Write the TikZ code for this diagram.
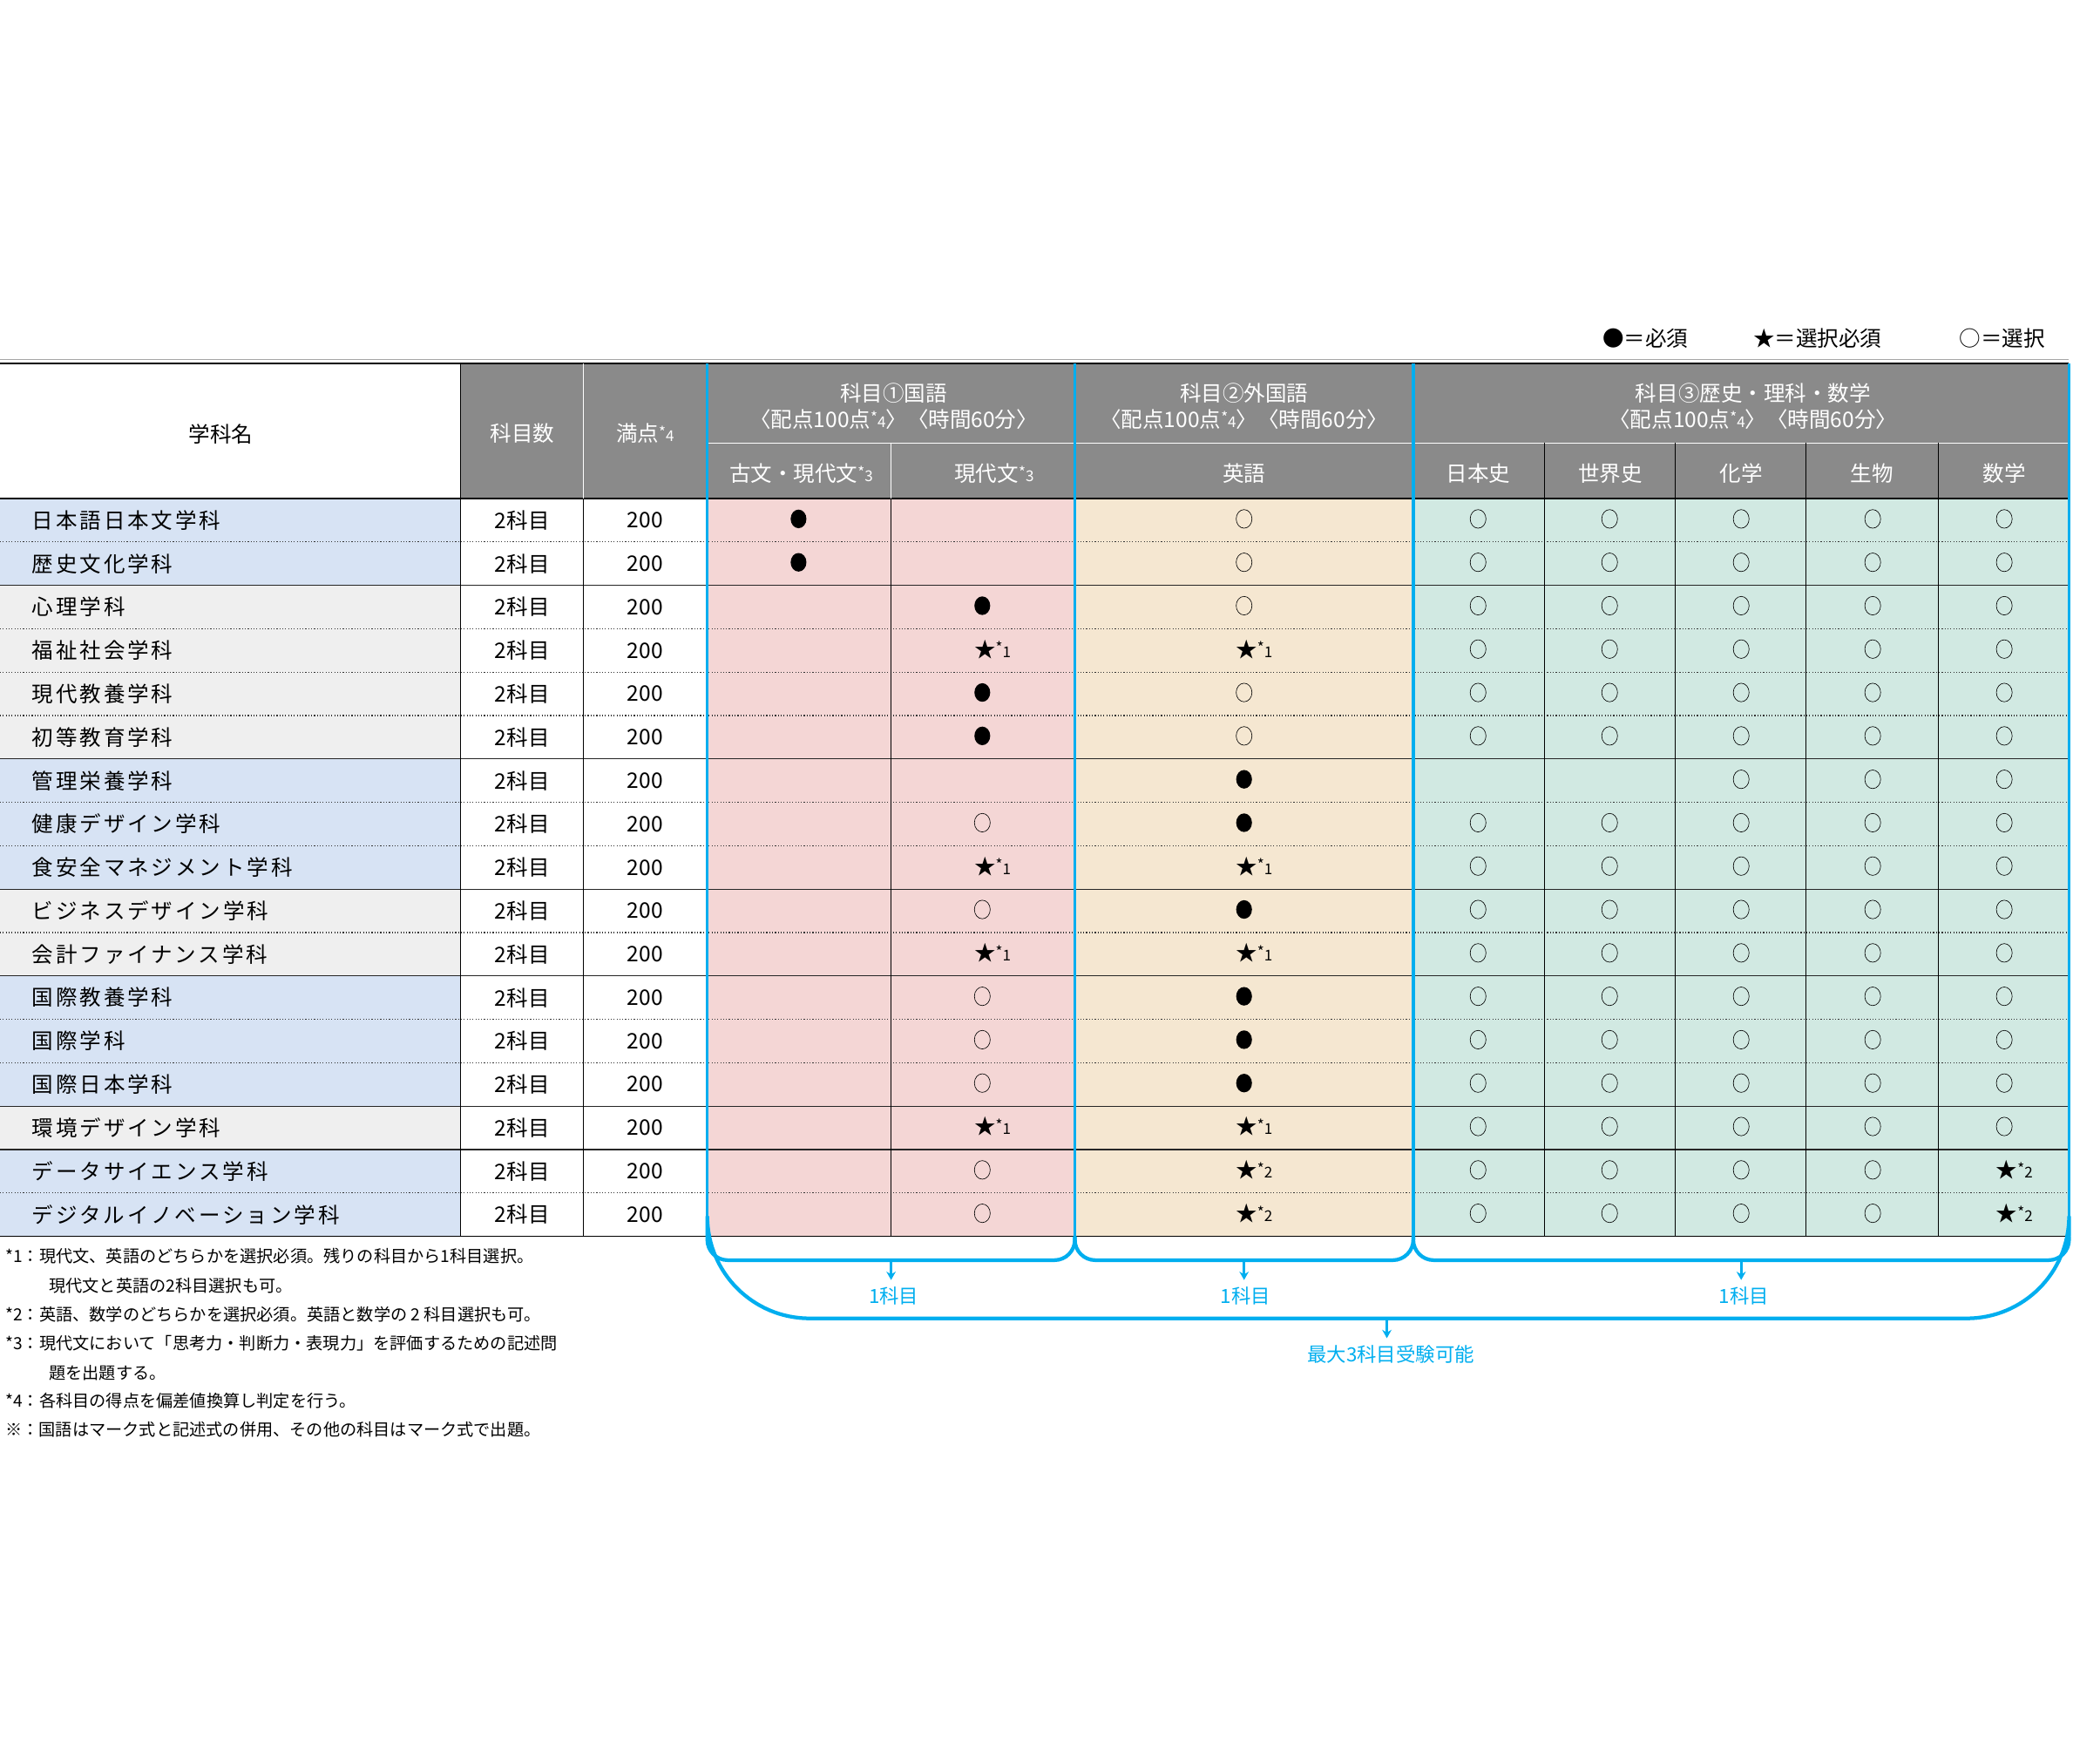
\documentclass[tikz,border=0pt]{standalone}
\usepackage{fontspec}
\setmainfont{Noto Sans CJK JP}
\usetikzlibrary{shapes.geometric,arrows.meta}
\definecolor{hdgrey}{HTML}{8A8A8A}
\definecolor{nmblue}{HTML}{D7E3F4}
\definecolor{nmgrey}{HTML}{EFEFEF}
\definecolor{kokugo}{HTML}{F4D6D5}
\definecolor{gaikoku}{HTML}{F5E7D1}
\definecolor{rika}{HTML}{D1E9E2}
\definecolor{ruby}{HTML}{00AEEF}
\newcommand\noteref[1]{{\fontsize{16}{16}\selectfont\raisebox{.45ex}{*}#1}}
\tikzset{
  txt/.style={font=\fontsize{23}{26}\selectfont, inner sep=0pt},
  hdtxt/.style={txt, text=white},
  mN/.style={node contents={}},
  mO/.style={ellipse, draw, line width=0.6pt, minimum width=17, minimum height=20, inner sep=0pt, node contents={}},
  mF/.style={ellipse, fill, minimum width=17, minimum height=20, inner sep=0pt, node contents={}},
  mS1/.style={txt, node contents={★\noteref{1}}, xshift=11},
  mS2/.style={txt, node contents={★\noteref{2}}, xshift=11},
  solidsep/.style={line width=1.2pt, black!85},
  dotsep/.style={line width=1.1pt, dotted, black!80},
  bracket/.style={ruby, line width=1.4mm},
  blue note/.style={txt, text=ruby, font=\fontsize{21}{24}\selectfont}
}
\begin{document}
\begin{tikzpicture}[x=0.5mm, y=-0.5mm]
  \useasboundingbox (0,0) rectangle (1568,1334);

  % legend
  \node (lgF) [txt, anchor=west] at (1212,256) {●＝必須};
  \node (lgS) [txt, anchor=west] at (1326,256) {★＝選択必須};
  \node (lgO) [txt, anchor=west] at (1482,256) {○＝選択};

  % backgrounds
  \fill[hdgrey] (348,275) rectangle (1565,377);
  \fill[kokugo] (535,377) rectangle (813,935);
  \fill[gaikoku] (813,377) rectangle (1069,935);
  \fill[rika] (1069,377) rectangle (1565,935);
  \foreach \a/\b/\c in {1/2/nmblue,3/6/nmgrey,7/9/nmblue,10/11/nmgrey,12/14/nmblue,15/15/nmgrey,16/17/nmblue}
    \fill[\c] (0,{377+(\a-1)*32.82}) rectangle (348,{377+\b*32.82});

  % header
  \node (hName) [txt] at (167,328) {学科名};
  \node (hNum) [hdtxt] at (395,328) {科目数};
  \node (hFull) [hdtxt] at (488,328) {満点\noteref{4}};
  \node (hK) [hdtxt, align=center] at (676,307) {科目①国語\\[2pt]〈配点100点\noteref{4}〉〈時間60分〉};
  \node (hG) [hdtxt, align=center] at (941,307) {科目②外国語\\[2pt]〈配点100点\noteref{4}〉〈時間60分〉};
  \node (hR) [hdtxt, align=center] at (1326,307) {科目③歴史・理科・数学\\[2pt]〈配点100点\noteref{4}〉〈時間60分〉};
  \node (hKobun) [hdtxt] at (606,358) {古文・現代文\noteref{3}};
  \node (hGendai) [hdtxt] at (752,358) {現代文\noteref{3}};
  \node (hEigo) [hdtxt] at (941,358) {英語};
  \foreach \x/\t [count=\j] in {1118/日本史,1218/世界史,1317/化学,1416/生物,1516/数学}
    \node (hS\j) [hdtxt] at (\x,358) {\t};

  % rows
  \foreach \nm/\a/\b/\c/\d [count=\r] in {
    日本語日本文学科/mF/mN/mO/{mO,mO,mO,mO,mO},
    歴史文化学科/mF/mN/mO/{mO,mO,mO,mO,mO},
    心理学科/mN/mF/mO/{mO,mO,mO,mO,mO},
    福祉社会学科/mN/mS1/mS1/{mO,mO,mO,mO,mO},
    現代教養学科/mN/mF/mO/{mO,mO,mO,mO,mO},
    初等教育学科/mN/mF/mO/{mO,mO,mO,mO,mO},
    管理栄養学科/mN/mN/mF/{mN,mN,mO,mO,mO},
    健康デザイン学科/mN/mO/mF/{mO,mO,mO,mO,mO},
    食安全マネジメント学科/mN/mS1/mS1/{mO,mO,mO,mO,mO},
    ビジネスデザイン学科/mN/mO/mF/{mO,mO,mO,mO,mO},
    会計ファイナンス学科/mN/mS1/mS1/{mO,mO,mO,mO,mO},
    国際教養学科/mN/mO/mF/{mO,mO,mO,mO,mO},
    国際学科/mN/mO/mF/{mO,mO,mO,mO,mO},
    国際日本学科/mN/mO/mF/{mO,mO,mO,mO,mO},
    環境デザイン学科/mN/mS1/mS1/{mO,mO,mO,mO,mO},
    データサイエンス学科/mN/mO/mS2/{mO,mO,mO,mO,mS2},
    デジタルイノベーション学科/mN/mO/mS2/{mO,mO,mO,mO,mS2}} {
    \pgfmathsetmacro\y{377+(\r-0.5)*32.82}
    \node (name\r) [txt, anchor=west] at (24,\y) {\addfontfeatures{LetterSpace=12}\nm};
    \node (num\r) [txt] at (395,\y) {2科目};
    \node (full\r) [txt] at (488,\y) {200};
    \node (kobun\r) [at={(604,\y-1)}, \a];
    \node (gendai\r) [at={(743,\y-1)}, \b];
    \node (eigo\r) [at={(941,\y-1)}, \c];
    \foreach \s [count=\j] in \d {
      \pgfmathsetmacro\x{1118+(\j-1)*99.5}
      \node (sci\r-\j) [at={(\x,\y-1)}, \s];
    }
  }

  % row separators
  \foreach \r in {1,3,4,5,7,8,10,12,13,16}
    \draw[dotsep] (0,{377+\r*32.82}) -- (1565,{377+\r*32.82});
  \foreach \r in {2,6,9,11,14,15}
    \draw[solidsep] (0,{377+\r*32.82}) -- (1565,{377+\r*32.82});

  % grid lines
  \draw[black!35, line width=0.6pt] (0,272) -- (1565,272);
  \draw[line width=1.6pt] (0,275) -- (1565,275);
  \draw[line width=1.6pt] (0,377) -- (1565,377);
  \draw[line width=1.6pt] (0,935) -- (1565,935);
  \draw[white, line width=1.2pt] (535,335) -- (1565,335);
  \draw[line width=0.8pt] (348,275) -- (348,935);
  \draw[white, line width=0.6pt] (441,275) -- (441,377);
  \draw[line width=0.6pt] (441,377) -- (441,935);
  \draw[white, line width=0.6pt] (674,335) -- (674,377);
  \draw[line width=0.5pt] (674,377) -- (674,935);
  \foreach \x in {1168,1267,1366,1466}
    \draw[line width=0.5pt] (\x,335) -- (\x,935);
  \foreach \x in {535,813,1069,1565}
    \draw[ruby, line width=1.1mm] (\x,275) -- (\x,935);

  % brackets
  \foreach \xa/\xb/\nm in {535/813/K,813/1069/G,1069/1565/R} {
    \draw[bracket, rounded corners=22pt] (\xa,935) -- (\xa,953) -- (\xb,953) -- (\xb,935);
    \coordinate (top\nm) at ({(\xa+\xb)/2},953);
  }
  \node (oneK) [blue note] at (676,980) {1科目};
  \node (oneG) [blue note] at (942,980) {1科目};
  \node (oneR) [blue note] at (1319,980) {1科目};
  \foreach \nm in {K,G,R}
    \draw[ruby, line width=0.9mm, -{Stealth[length=9pt,width=10pt]}] (top\nm) -- (top\nm |- 0,968);
  \draw[bracket, rounded corners=110pt] (535,935) -- (535,997) -- (1565,997) -- (1565,935);
  \coordinate (topAll) at (1049,997);
  \draw[ruby, line width=0.9mm, -{Stealth[length=9pt,width=10pt]}] (topAll) -- (1049,1012);
  \node (maxThree) [blue note] at (1052,1024) {最大3科目受験可能};

  % notes
  \begin{scope}[every node/.style={anchor=west, inner sep=0pt, font=\fontsize{18}{20}\selectfont}]
    \node (n1) at (4,950) {*1：現代文、英語のどちらかを選択必須。残りの科目から1科目選択。};
    \node (n1b) at (37,972) {現代文と英語の2科目選択も可。};
    \node (n2) at (4,994) {*2：英語、数学のどちらかを選択必須。英語と数学の 2 科目選択も可。};
    \node (n3) at (4,1016) {*3：現代文において「思考力・判断力・表現力」を評価するための記述問};
    \node (n3b) at (37,1038) {題を出題する。};
    \node (n4) at (4,1059) {*4：各科目の得点を偏差値換算し判定を行う。};
    \node (n5) at (4,1081) {※：国語はマーク式と記述式の併用、その他の科目はマーク式で出題。};
  \end{scope}
\end{tikzpicture}
\end{document}
